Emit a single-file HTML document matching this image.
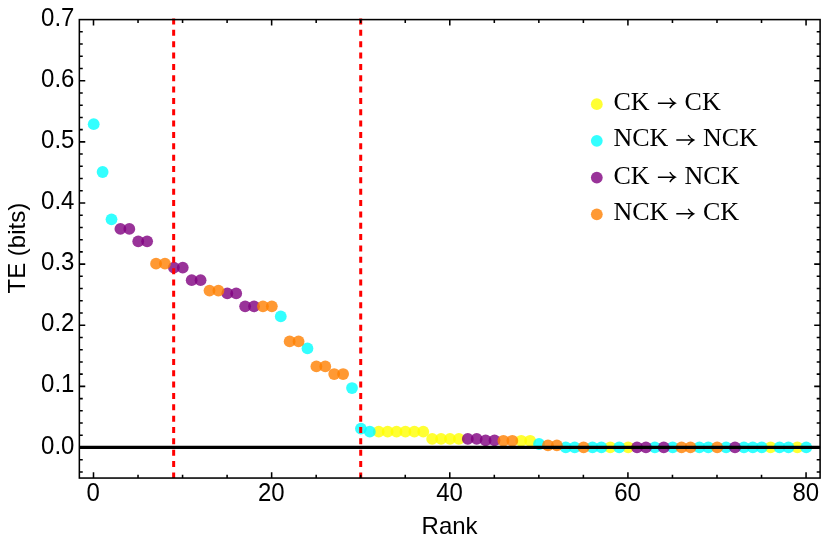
<!DOCTYPE html>
<html><head><meta charset="utf-8"><title>TE rank plot</title>
<style>
html,body{margin:0;padding:0;background:#fff;}
body{width:830px;height:550px;overflow:hidden;}
svg{display:block;will-change:transform;}
.sans{font-family:"Liberation Sans",sans-serif;fill:#000;}
.serif{font-family:"Liberation Serif",serif;fill:#000;}
</style></head><body>
<svg width="830" height="550" viewBox="0 0 830 550">
<rect x="0" y="0" width="830" height="550" fill="#ffffff"/>
<g fill="#ffff00" fill-opacity="0.8">
<circle cx="378.72" cy="431.67" r="5.9"/>
<circle cx="387.63" cy="431.67" r="5.9"/>
<circle cx="396.54" cy="431.67" r="5.9"/>
<circle cx="405.44" cy="431.67" r="5.9"/>
<circle cx="414.35" cy="431.67" r="5.9"/>
<circle cx="423.26" cy="431.67" r="5.9"/>
<circle cx="432.17" cy="438.89" r="5.9"/>
<circle cx="441.07" cy="438.89" r="5.9"/>
<circle cx="449.98" cy="438.89" r="5.9"/>
<circle cx="458.89" cy="438.89" r="5.9"/>
<circle cx="521.24" cy="440.78" r="5.9"/>
<circle cx="530.14" cy="440.78" r="5.9"/>
<circle cx="610.31" cy="447.40" r="5.9"/>
<circle cx="628.12" cy="447.40" r="5.9"/>
<circle cx="770.63" cy="447.40" r="5.9"/>
<circle cx="797.35" cy="447.40" r="5.9"/>
</g>
<g fill="#00ffff" fill-opacity="0.8">
<circle cx="93.70" cy="124.19" r="5.9"/>
<circle cx="102.61" cy="171.99" r="5.9"/>
<circle cx="111.51" cy="219.37" r="5.9"/>
<circle cx="280.75" cy="316.38" r="5.9"/>
<circle cx="307.47" cy="348.41" r="5.9"/>
<circle cx="352.00" cy="388.03" r="5.9"/>
<circle cx="360.91" cy="428.62" r="5.9"/>
<circle cx="369.82" cy="431.67" r="5.9"/>
<circle cx="539.05" cy="444.02" r="5.9"/>
<circle cx="565.77" cy="447.40" r="5.9"/>
<circle cx="574.68" cy="447.40" r="5.9"/>
<circle cx="592.49" cy="447.40" r="5.9"/>
<circle cx="601.40" cy="447.40" r="5.9"/>
<circle cx="619.21" cy="447.40" r="5.9"/>
<circle cx="654.84" cy="447.40" r="5.9"/>
<circle cx="672.66" cy="447.40" r="5.9"/>
<circle cx="699.38" cy="447.40" r="5.9"/>
<circle cx="708.28" cy="447.40" r="5.9"/>
<circle cx="726.10" cy="447.40" r="5.9"/>
<circle cx="743.91" cy="447.40" r="5.9"/>
<circle cx="752.82" cy="447.40" r="5.9"/>
<circle cx="761.73" cy="447.40" r="5.9"/>
<circle cx="779.54" cy="447.40" r="5.9"/>
<circle cx="788.45" cy="447.40" r="5.9"/>
<circle cx="806.26" cy="447.40" r="5.9"/>
</g>
<g fill="#800080" fill-opacity="0.8">
<circle cx="120.42" cy="228.90" r="5.9"/>
<circle cx="129.33" cy="228.90" r="5.9"/>
<circle cx="138.23" cy="241.31" r="5.9"/>
<circle cx="147.14" cy="241.31" r="5.9"/>
<circle cx="173.86" cy="267.60" r="5.9"/>
<circle cx="182.77" cy="267.60" r="5.9"/>
<circle cx="191.68" cy="280.13" r="5.9"/>
<circle cx="200.58" cy="280.13" r="5.9"/>
<circle cx="227.30" cy="293.40" r="5.9"/>
<circle cx="236.21" cy="293.40" r="5.9"/>
<circle cx="245.12" cy="306.30" r="5.9"/>
<circle cx="254.03" cy="306.30" r="5.9"/>
<circle cx="467.79" cy="438.89" r="5.9"/>
<circle cx="476.70" cy="438.89" r="5.9"/>
<circle cx="485.61" cy="440.41" r="5.9"/>
<circle cx="494.51" cy="440.41" r="5.9"/>
<circle cx="637.03" cy="447.40" r="5.9"/>
<circle cx="645.93" cy="447.40" r="5.9"/>
<circle cx="663.75" cy="447.40" r="5.9"/>
<circle cx="735.00" cy="447.40" r="5.9"/>
</g>
<g fill="#ff8000" fill-opacity="0.8">
<circle cx="156.05" cy="263.63" r="5.9"/>
<circle cx="164.96" cy="263.63" r="5.9"/>
<circle cx="209.49" cy="290.58" r="5.9"/>
<circle cx="218.40" cy="290.58" r="5.9"/>
<circle cx="262.93" cy="306.30" r="5.9"/>
<circle cx="271.84" cy="306.30" r="5.9"/>
<circle cx="289.65" cy="341.38" r="5.9"/>
<circle cx="298.56" cy="341.38" r="5.9"/>
<circle cx="316.38" cy="366.39" r="5.9"/>
<circle cx="325.28" cy="366.39" r="5.9"/>
<circle cx="334.19" cy="374.03" r="5.9"/>
<circle cx="343.10" cy="374.03" r="5.9"/>
<circle cx="503.42" cy="440.78" r="5.9"/>
<circle cx="512.33" cy="440.78" r="5.9"/>
<circle cx="547.96" cy="445.37" r="5.9"/>
<circle cx="556.86" cy="445.37" r="5.9"/>
<circle cx="583.59" cy="447.40" r="5.9"/>
<circle cx="681.56" cy="447.40" r="5.9"/>
<circle cx="690.47" cy="447.40" r="5.9"/>
<circle cx="717.19" cy="447.40" r="5.9"/>
</g>
<line x1="173.66" y1="18.5" x2="173.66" y2="478.05" stroke="#ff0000" stroke-width="3" stroke-dasharray="6 5.347"/>
<line x1="360.71" y1="18.5" x2="360.71" y2="478.05" stroke="#ff0000" stroke-width="3" stroke-dasharray="6 5.347"/>
<line x1="79.35" y1="447.4" x2="820.1" y2="447.4" stroke="#000" stroke-width="3.1"/>
<rect x="79.35" y="19.6" width="740.75" height="458.45" fill="none" stroke="#000" stroke-width="1.55"/>
<path d="M93.50 478.05v-5.9M93.50 19.6v5.9M138.03 478.05v-3.4M138.03 19.6v3.4M182.57 478.05v-3.4M182.57 19.6v3.4M227.10 478.05v-3.4M227.10 19.6v3.4M271.64 478.05v-5.9M271.64 19.6v5.9M316.18 478.05v-3.4M316.18 19.6v3.4M360.71 478.05v-3.4M360.71 19.6v3.4M405.25 478.05v-3.4M405.25 19.6v3.4M449.78 478.05v-5.9M449.78 19.6v5.9M494.31 478.05v-3.4M494.31 19.6v3.4M538.85 478.05v-3.4M538.85 19.6v3.4M583.38 478.05v-3.4M583.38 19.6v3.4M627.92 478.05v-5.9M627.92 19.6v5.9M672.46 478.05v-3.4M672.46 19.6v3.4M716.99 478.05v-3.4M716.99 19.6v3.4M761.52 478.05v-3.4M761.52 19.6v3.4M806.06 478.05v-5.9M806.06 19.6v5.9M79.35 471.95h3.4M820.1 471.95h-3.4M79.35 459.73h3.4M820.1 459.73h-3.4M79.35 447.50h5.9M820.1 447.50h-5.9M79.35 435.27h3.4M820.1 435.27h-3.4M79.35 423.05h3.4M820.1 423.05h-3.4M79.35 410.82h3.4M820.1 410.82h-3.4M79.35 398.60h3.4M820.1 398.60h-3.4M79.35 386.37h5.9M820.1 386.37h-5.9M79.35 374.14h3.4M820.1 374.14h-3.4M79.35 361.92h3.4M820.1 361.92h-3.4M79.35 349.69h3.4M820.1 349.69h-3.4M79.35 337.47h3.4M820.1 337.47h-3.4M79.35 325.24h5.9M820.1 325.24h-5.9M79.35 313.01h3.4M820.1 313.01h-3.4M79.35 300.79h3.4M820.1 300.79h-3.4M79.35 288.56h3.4M820.1 288.56h-3.4M79.35 276.34h3.4M820.1 276.34h-3.4M79.35 264.11h5.9M820.1 264.11h-5.9M79.35 251.88h3.4M820.1 251.88h-3.4M79.35 239.66h3.4M820.1 239.66h-3.4M79.35 227.43h3.4M820.1 227.43h-3.4M79.35 215.21h3.4M820.1 215.21h-3.4M79.35 202.98h5.9M820.1 202.98h-5.9M79.35 190.75h3.4M820.1 190.75h-3.4M79.35 178.53h3.4M820.1 178.53h-3.4M79.35 166.30h3.4M820.1 166.30h-3.4M79.35 154.08h3.4M820.1 154.08h-3.4M79.35 141.85h5.9M820.1 141.85h-5.9M79.35 129.62h3.4M820.1 129.62h-3.4M79.35 117.40h3.4M820.1 117.40h-3.4M79.35 105.17h3.4M820.1 105.17h-3.4M79.35 92.95h3.4M820.1 92.95h-3.4M79.35 80.72h5.9M820.1 80.72h-5.9M79.35 68.49h3.4M820.1 68.49h-3.4M79.35 56.27h3.4M820.1 56.27h-3.4M79.35 44.04h3.4M820.1 44.04h-3.4M79.35 31.82h3.4M820.1 31.82h-3.4" stroke="#000" stroke-width="1.55" fill="none"/>
<g class="sans" font-size="24" text-anchor="end">
<text transform="translate(74.4 453.55) scale(1 1.05)">0.0</text>
<text transform="translate(74.4 392.42) scale(1 1.05)">0.1</text>
<text transform="translate(74.4 331.29) scale(1 1.05)">0.2</text>
<text transform="translate(74.4 270.16) scale(1 1.05)">0.3</text>
<text transform="translate(74.4 209.03) scale(1 1.05)">0.4</text>
<text transform="translate(74.4 147.90) scale(1 1.05)">0.5</text>
<text transform="translate(74.4 86.77) scale(1 1.05)">0.6</text>
<text transform="translate(74.4 25.64) scale(1 1.05)">0.7</text>
</g>
<g class="sans" font-size="24" text-anchor="middle">
<text transform="translate(93.20 500.8) scale(1 1.045)">0</text>
<text transform="translate(271.34 500.8) scale(1 1.045)">20</text>
<text transform="translate(449.48 500.8) scale(1 1.045)">40</text>
<text transform="translate(627.62 500.8) scale(1 1.045)">60</text>
<text transform="translate(805.76 500.8) scale(1 1.045)">80</text>
</g>
<text class="sans" font-size="24" text-anchor="middle" x="449.6" y="534.1">Rank</text>
<text class="sans" font-size="24" text-anchor="middle" transform="translate(24.8 248.2) rotate(-90)">TE (bits)</text>
<circle cx="596.8" cy="104.2" r="5.9" fill="#ffff00" fill-opacity="0.8"/>
<text class="serif" font-size="26" x="613.4" y="109.6">CK</text>
<path d="M657.9 103.19999999999999H674.8M669.8 98.19999999999999Q671.9 101.69999999999999 675.1999999999999 103.19999999999999Q671.9 104.69999999999999 669.8 108.19999999999999" fill="none" stroke="#000" stroke-width="1.4" stroke-linejoin="miter"/>
<text class="serif" font-size="26" x="684.6" y="109.6">CK</text>
<circle cx="596.8" cy="140.8" r="5.9" fill="#00ffff" fill-opacity="0.8"/>
<text class="serif" font-size="26" x="613.4" y="146.4">NCK</text>
<path d="M676.3 140.0H693.1999999999999M688.1999999999999 135.0Q690.3 138.5 693.5999999999999 140.0Q690.3 141.5 688.1999999999999 145.0" fill="none" stroke="#000" stroke-width="1.4" stroke-linejoin="miter"/>
<text class="serif" font-size="26" x="702.9" y="146.4">NCK</text>
<circle cx="596.8" cy="177.6" r="5.9" fill="#800080" fill-opacity="0.8"/>
<text class="serif" font-size="26" x="613.4" y="183.6">CK</text>
<path d="M657.9 177.2H674.8M669.8 172.2Q671.9 175.7 675.1999999999999 177.2Q671.9 178.7 669.8 182.2" fill="none" stroke="#000" stroke-width="1.4" stroke-linejoin="miter"/>
<text class="serif" font-size="26" x="684.6" y="183.6">NCK</text>
<circle cx="596.8" cy="214.3" r="5.9" fill="#ff8000" fill-opacity="0.8"/>
<text class="serif" font-size="26" x="613.4" y="220.2">NCK</text>
<path d="M676.3 213.79999999999998H693.1999999999999M688.1999999999999 208.79999999999998Q690.3 212.29999999999998 693.5999999999999 213.79999999999998Q690.3 215.29999999999998 688.1999999999999 218.79999999999998" fill="none" stroke="#000" stroke-width="1.4" stroke-linejoin="miter"/>
<text class="serif" font-size="26" x="702.9" y="220.2">CK</text>
</svg>
</body></html>
